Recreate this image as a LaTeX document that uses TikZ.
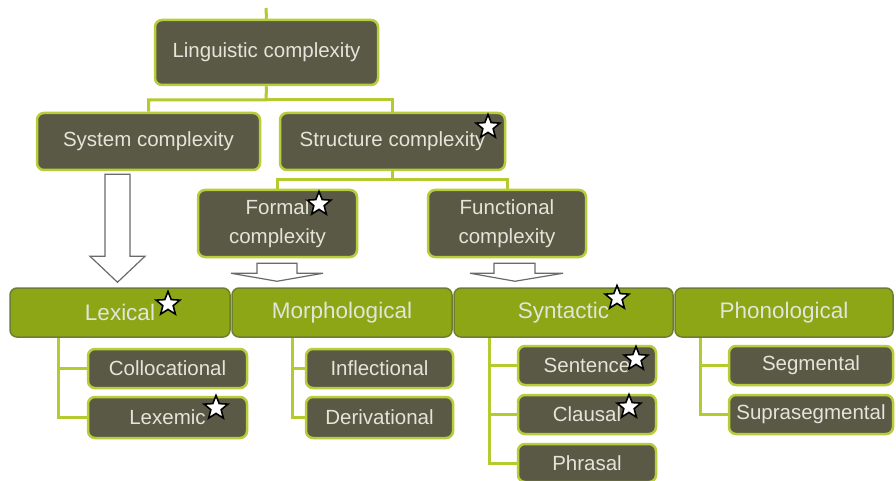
\documentclass[tikz,border=0pt]{standalone}
\usepackage{fontspec}
\setmainfont{Liberation Sans}
\usetikzlibrary{shapes.geometric,calc}
\definecolor{BoxDark}{HTML}{5A5946}
\definecolor{BoxEdge}{HTML}{B9CC3A}
\definecolor{BoxText}{HTML}{E4E4DA}
\definecolor{LeafGreen}{HTML}{8CA615}
\definecolor{LeafEdge}{HTML}{6C7F30}
\definecolor{LinkLime}{HTML}{B5CA2E}
\definecolor{ArrowGray}{HTML}{6A6A6A}

\begin{document}
\begin{tikzpicture}[
  x=1pt, y=-1pt,
  box/.style={draw=BoxEdge,line width=2.5pt,rounded corners=7pt,fill=BoxDark,text=BoxText,align=center,inner sep=0pt,font=\fontsize{20.5}{29}\selectfont},
  leaf/.style={box,draw=LeafEdge,line width=1.5pt,fill=LeafGreen,text=BoxText,font=\fontsize{22.5}{29}\selectfont},
  sized/.style 2 args={minimum width=#1pt,minimum height=#2pt},
  link/.style={draw=LinkLime,line width=3pt},
  hollow/.style={draw=ArrowGray,fill=white,line width=1.2pt},
  starmark/.style={star,star points=5,star point ratio=2.3,minimum size=25pt,inner sep=0pt,fill=white,draw=black,line width=1.6pt}
]
  \path[fill=white,use as bounding box] (0,0) rectangle (896,481);

  % top levels
  \node[box, sized={223}{65}] (ling) at (266.5,52.5) {Linguistic complexity};
  \node[box, sized={223}{57}] (sys) at (148.5,141.5) {System complexity};
  \node[box, sized={225}{57}] (struc) at (392.5,141.5) {Structure complexity};
  \node[box, sized={159}{67}] (formal) at (277.5,223.5) {Formal\\complexity};
  \node[box, sized={158}{67}] (func) at (507,223.5) {Functional\\complexity};

  % levels of analysis
  \node[leaf, sized={220}{49}] (lex) at (120,312.5) {Lexical};
  \node[leaf, sized={220}{49}] (morph) at (342,312.5) {Morphological};
  \node[leaf, sized={219}{49}] (synt) at (563.5,312.5) {Syntactic};
  \node[leaf, sized={218}{49}] (phon) at (784,312.5) {Phonological};

  \node[box, sized={159}{39}] (coll) at (167.5,368.5) {Collocational};
  \node[box, sized={159}{41}] (lexem) at (167.5,417.5) {Lexemic};
  \node[box, sized={147}{39}] (infl) at (379.5,368.5) {Inflectional};
  \node[box, sized={147}{41}] (deriv) at (379.5,417.5) {Derivational};
  \node[box, sized={138}{39}] (sent) at (587,365.5) {Sentence};
  \node[box, sized={138}{39}] (claus) at (587,414.5) {Clausal};
  \node[box, sized={138}{38}] (phras) at (587,463) {Phrasal};
  \node[box, sized={164}{39}] (segm) at (811,365.5) {Segmental};
  \node[box, sized={164}{39}] (supra) at (811,414.5) {Suprasegmental};

  % tree links
  \coordinate (lingtop) at (266,8);
  \coordinate (lingfork) at (266,100);
  \coordinate (strucfork) at (392.5,180);
  \draw[link] (lingtop) -- (ling.north);
  \draw[link] (ling.south) -- (lingfork) -| (sys.north);
  \draw[link] (lingfork) -| (struc.north);
  \draw[link] (struc.south) -- (strucfork) -| (formal.north);
  \draw[link] (strucfork) -| (func.north);

  \coordinate (lexroot) at (58,338);
  \coordinate (morphroot) at (292,338);
  \coordinate (syntroot) at (489,338);
  \coordinate (phonroot) at (700,338);
  \draw[link] (lexroot) |- (coll.west);
  \draw[link] (lexroot) |- (lexem.west);
  \draw[link] (morphroot) |- (infl.west);
  \draw[link] (morphroot) |- (deriv.west);
  \draw[link] (syntroot) |- (sent.west);
  \draw[link] (syntroot) |- (claus.west);
  \draw[link] (syntroot) |- (phras.west);
  \draw[link] (phonroot) |- (segm.west);
  \draw[link] (phonroot) |- (supra.west);

  % hollow arrows
  \draw[hollow] ($(sys.south)+(-43.5,3)$) -- ++(0,82) -- ++(-15,0) -- ($(lex.north)+(-2.5,-5)$)
    -- ($(sys.south)+(-3.5,85)$) -- ++(-15,0) -- ++(0,-82) -- cycle;
  \draw[hollow] ($(formal.south)+(-20.5,5)$) -- ++(0,10) -- ++(-26,0) -- ($(morph.north)+(-65,-6)$)
    -- ($(formal.south)+(45.5,15)$) -- ++(-26,0) -- ++(0,-10) -- cycle;
  \draw[hollow] ($(func.south)+(-13,5)$) -- ++(0,10) -- ++(-24,0) -- ($(synt.north)+(-48.5,-6)$)
    -- ($(func.south)+(56,15)$) -- ++(-28,0) -- ++(0,-10) -- cycle;

  % stars
  \node[starmark] (strucstar) at (488,127) {};
  \node[starmark] (formalstar) at (319,204) {};
  \node[starmark] (lexstar) at (168,304) {};
  \node[starmark] (syntstar) at (617,298) {};
  \node[starmark] (sentstar) at (636,359) {};
  \node[starmark] (clausstar) at (629,407) {};
  \node[starmark] (lexemstar) at (216,408) {};
\end{tikzpicture}
\end{document}
